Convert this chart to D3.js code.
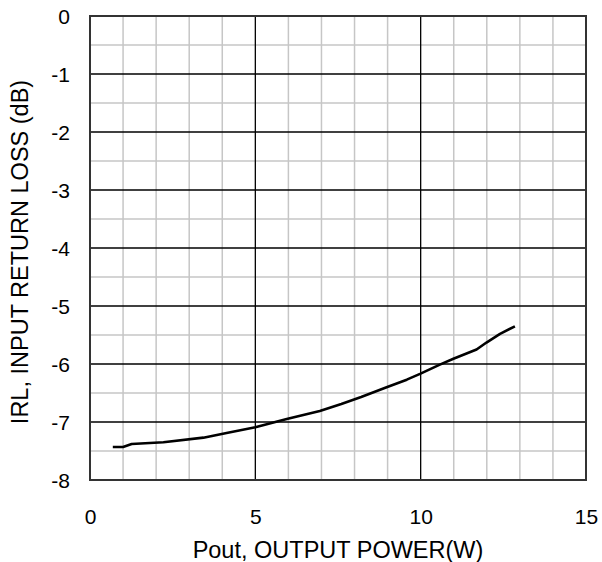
<!DOCTYPE html>
<html>
<head>
<meta charset="utf-8">
<script src="https://cdn.jsdelivr.net/npm/d3@7"></script>
<style>
  html, body { margin: 0; padding: 0; background: #fff; }
  svg { display: block; }
  text { font-family: "Liberation Sans", Arial, sans-serif; fill: #000; }
</style>
</head>
<body>
<script>
// Data
const poutW = [0.69, 1.0, 1.26, 2.22, 3.43, 4.13, 5.0, 5.95, 6.95, 7.6, 8.2, 8.97, 9.58, 9.98, 10.58, 10.99, 11.69, 11.99, 12.40, 12.85];
const irlDb = [-7.43, -7.43, -7.38, -7.35, -7.27, -7.19, -7.09, -6.95, -6.81, -6.69, -6.57, -6.40, -6.27, -6.17, -6.01, -5.91, -5.75, -5.63, -5.48, -5.35];
const xTicks = [0, 5, 10, 15];
const yTicks = [0, -1, -2, -3, -4, -5, -6, -7, -8];
const xMinor = [1, 2, 3, 4, 6, 7, 8, 9, 11, 12, 13, 14];
const yMinor = [-0.5, -1.5, -2.5, -3.5, -4.5, -5.5, -6.5, -7.5];
const xTitle = "Pout, OUTPUT POWER(W)";
const yTitle = "IRL, INPUT RETURN LOSS (dB)";

const W = 602, H = 562;
const m = { left: 90, right: 16, top: 16, bottom: 82 };

const svg = d3.select("body").append("svg").attr("width", W).attr("height", H);

const x = d3.scaleLinear().domain([0, 15]).range([m.left, W - m.right]);
const y = d3.scaleLinear().domain([-8, 0]).range([H - m.bottom, m.top]);

const g = svg.append("g");

// minor grid
g.selectAll("line.xm").data(xMinor).enter().append("line")
  .attr("x1", d => x(d)).attr("x2", d => x(d))
  .attr("y1", y(0)).attr("y2", y(-8))
  .attr("stroke", "#c6c6c6").attr("stroke-width", 1.5);
g.selectAll("line.ym").data(yMinor).enter().append("line")
  .attr("y1", d => y(d)).attr("y2", d => y(d))
  .attr("x1", x(0)).attr("x2", x(15))
  .attr("stroke", "#c6c6c6").attr("stroke-width", 1.5);

// major grid
g.selectAll("line.xM").data(xTicks.slice(1, -1)).enter().append("line")
  .attr("x1", d => x(d)).attr("x2", d => x(d))
  .attr("y1", y(0)).attr("y2", y(-8))
  .attr("stroke", "#000").attr("stroke-width", 1.3);
g.selectAll("line.yM").data(yTicks.slice(1, -1)).enter().append("line")
  .attr("y1", d => y(d)).attr("y2", d => y(d))
  .attr("x1", x(0)).attr("x2", x(15))
  .attr("stroke", "#000").attr("stroke-width", 1.3);

// frame
g.append("rect")
  .attr("x", x(0)).attr("y", y(0))
  .attr("width", x(15) - x(0)).attr("height", y(-8) - y(0))
  .attr("fill", "none").attr("stroke", "#333").attr("stroke-width", 2);

// axes (labels only)
const xAxis = d3.axisBottom(x).tickValues(xTicks).tickSize(0).tickPadding(0).tickFormat(d => String(d));
const xa = svg.append("g").attr("transform", `translate(0,${y(-8)})`).call(xAxis);
xa.select(".domain").remove();
xa.selectAll("text").attr("dy", null).attr("y", 44)
  .style("font-size", "21px").style("font-family", "Liberation Sans, Arial, sans-serif");

const yAxis = d3.axisLeft(y).tickValues(yTicks).tickSize(0).tickPadding(0).tickFormat(d => String(d));
const ya = svg.append("g").attr("transform", `translate(${x(0)},0)`).call(yAxis);
ya.select(".domain").remove();
ya.selectAll("text").attr("x", -20).attr("dy", "0.36em")
  .style("font-size", "21px").style("font-family", "Liberation Sans, Arial, sans-serif");

// curve
const pts = poutW.map((d, i) => [d, irlDb[i]]);
svg.append("path")
  .datum(pts)
  .attr("fill", "none").attr("stroke", "#000").attr("stroke-width", 2.6)
  .attr("stroke-linejoin", "round")
  .attr("d", d3.line().x(d => x(d[0])).y(d => y(d[1])));

// titles
svg.append("text")
  .attr("x", (x(0) + x(15)) / 2).attr("y", 558)
  .attr("text-anchor", "middle").style("font-size", "23.5px")
  .text(xTitle);
svg.append("text")
  .attr("transform", `translate(28,${(y(0) + y(-8)) / 2 + 4}) rotate(-90)`)
  .attr("text-anchor", "middle").style("font-size", "23.5px")
  .text(yTitle);
</script>
</body>
</html>
